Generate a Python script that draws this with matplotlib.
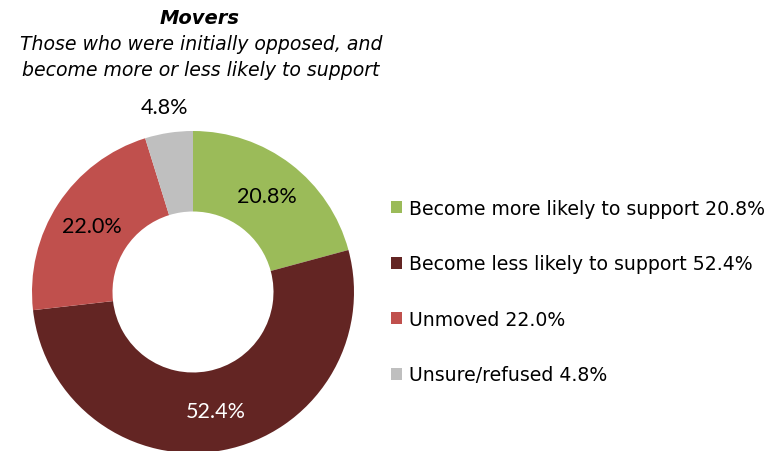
import numpy as np
import matplotlib
matplotlib.use('Agg')
import matplotlib.pyplot as plt
from matplotlib.patches import Patch

# data
categories = ['Become more likely to support', 'Become less likely to support',
              'Unmoved', 'Unsure/refused']
values = [20.8, 52.4, 22.0, 4.8]
colors = ['#9BBB59', '#632523', '#C0504D', '#BFBFBF']
label_colors = ['black', 'white', 'black', 'black']
label_dist = [0.75, 0.75, 0.75, 1.16]

W, H = 779, 452
fig = plt.figure(figsize=(W / 100, H / 100), dpi=100)

# donut axes: centre (193, 293) px, radius 161 px
cx, cy, R = 193, 293, 161
ax = fig.add_axes([(cx - R) / W, (H - cy - R) / H, 2 * R / W, 2 * R / H])
wedges, _ = ax.pie(values, colors=colors, startangle=90, counterclock=False,
                   radius=1, wedgeprops=dict(width=0.5, linewidth=0))
ax.set_xlim(-1, 1)
ax.set_ylim(-1, 1)
ax.set_aspect('equal')
ax.axis('off')
for w in wedges:
    w.set_clip_on(False)

# data labels
for w, v, c, d in zip(wedges, values, label_colors, label_dist):
    ang = np.deg2rad((w.theta1 + w.theta2) / 2)
    ax.text(d * np.cos(ang), d * np.sin(ang), f'{v:.1f}%', color=c,
            ha='center', va='center', fontsize=15.5, family='Lato', clip_on=False)

# title
fig.text(200 / W, 1 - 18 / H, 'Movers', ha='center', va='center',
         fontsize=14, fontweight='bold', fontstyle='italic')
fig.text(201 / W, 1 - 45 / H, 'Those who were initially opposed, and',
         ha='center', va='center', fontsize=13.6, fontstyle='italic')
fig.text(201 / W, 1 - 70 / H, 'become more or less likely to support',
         ha='center', va='center', fontsize=13.6, fontstyle='italic')

# legend
handles = [Patch(facecolor=c, edgecolor='none') for c in colors]
labels = [f'{n} {v:.1f}%' for n, v in zip(categories, values)]
fig.legend(handles, labels, loc='upper left', bbox_to_anchor=(391 / W, 1 - 200 / H),
           frameon=False, fontsize=13.6, handlelength=0.6, handleheight=0.6,
           handletextpad=0.35, labelspacing=1.93, borderpad=0, borderaxespad=0)

plt.savefig('out.png', dpi=100)
